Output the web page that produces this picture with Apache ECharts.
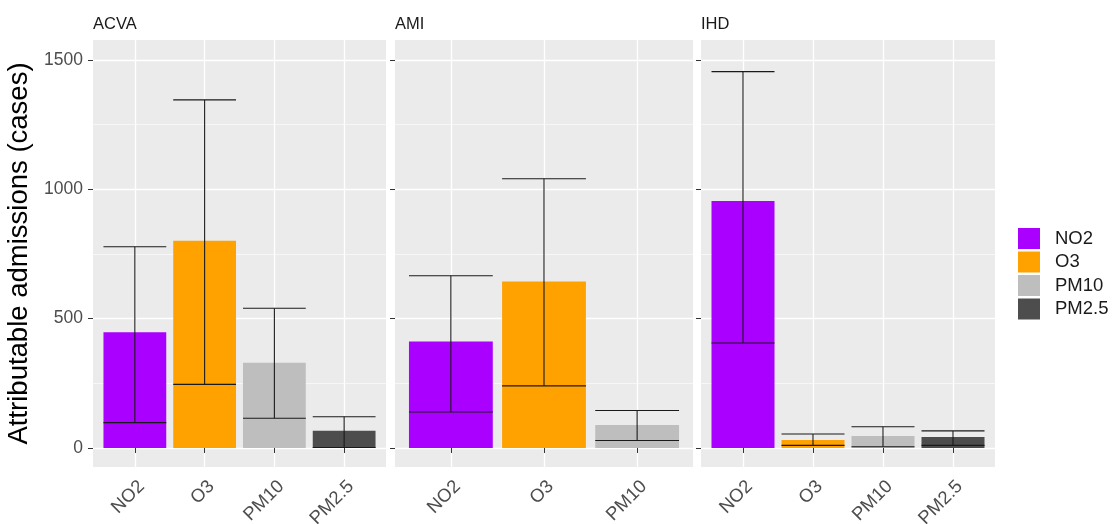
<!DOCTYPE html>
<html>
<head>
<meta charset="utf-8">
<script src="https://cdn.jsdelivr.net/npm/echarts@6/dist/echarts.min.js"></script>
<style>html,body{margin:0;padding:0;background:#fff;}#c{width:1116px;height:524px;}</style>
</head>
<body>
<div id="c"></div>
<script>
// ---- data ----
const facetNames = ['ACVA', 'AMI', 'IHD'];
const pollutants = ['NO2', 'O3', 'PM10', 'PM2.5'];

const acvaCats = ['NO2', 'O3', 'PM10', 'PM2.5'];
const acvaVals = [447, 801, 330, 67];
const acvaLow  = [98, 246, 115, 2];
const acvaHigh = [778, 1346, 540, 121];

const amiCats = ['NO2', 'O3', 'PM10'];
const amiVals = [412, 644, 89];
const amiLow  = [139, 240, 29];
const amiHigh = [666, 1041, 145];

const ihdCats = ['NO2', 'O3', 'PM10', 'PM2.5'];
const ihdVals = [955, 31, 46, 42];
const ihdLow  = [406, 10, 5, 10];
const ihdHigh = [1455, 54, 82, 66];

const yTicks = [0, 500, 1000, 1500];
const yMinorTicks = [250, 750, 1250];
const yTitle = 'Attributable admissions (cases)';

// ---- styling / layout ----
const colors = {'NO2': '#AA00FF', 'O3': '#FFA200', 'PM10': '#BEBEBE', 'PM2.5': '#4D4D4D'};
const FONT = 'Liberation Sans, Arial, sans-serif';
const panels = [{l: 93, r: 386}, {l: 395, r: 693}, {l: 701, r: 995}];
const TOP = 40, BOTTOM = 467;
const Y_MIN = -73.5, Y_MAX = 1577.3;

const facets = [
  {cats: acvaCats, vals: acvaVals, lo: acvaLow, hi: acvaHigh},
  {cats: amiCats, vals: amiVals, lo: amiLow, hi: amiHigh},
  {cats: ihdCats, vals: ihdVals, lo: ihdLow, hi: ihdHigh}
];

const grid = [], xAxis = [], yAxis = [], series = [], title = [];
facets.forEach((f, k) => {
  const p = panels[k];
  const w = p.r - p.l;
  const n = f.cats.length;
  const sp = w / (n + 0.2);
  const og = grid.length;
  grid.push({left: p.l, top: TOP, width: w, height: BOTTOM - TOP, show: true,
    backgroundColor: '#EBEBEB', borderWidth: 0, outerBoundsMode: 'none', containLabel: false});
  const ig = grid.length;
  grid.push({left: p.l + 0.6 * sp, top: TOP, width: sp * (n - 1), height: BOTTOM - TOP,
    outerBoundsMode: 'none', containLabel: false});

  title.push({text: facetNames[k], left: p.l, top: 16, padding: 0,
    textStyle: {fontSize: 16.5, fontWeight: 'normal', color: '#1A1A1A', fontFamily: FONT}});

  // outer axes
  xAxis.push({gridIndex: og, type: 'value', min: 0, max: 1, show: false});
  yAxis.push({gridIndex: og, type: 'value', min: Y_MIN, max: Y_MAX,
    axisLine: {show: false},
    axisTick: {show: true, length: 5, customValues: yTicks, lineStyle: {color: '#333', width: 1}},
    axisLabel: {show: k === 0, customValues: yTicks, fontSize: 17.5, color: '#4D4D4D', margin: 10,
      fontFamily: FONT, formatter: v => String(v)},
    splitLine: {show: true, lineStyle: {color: '#FFFFFF', width: 1.3}},
    name: k === 0 ? yTitle : '', nameLocation: 'middle', nameGap: 60,
    nameTextStyle: {fontSize: 27.5, color: '#000', fontFamily: FONT}
  });
  yAxis.push({gridIndex: og, type: 'value', min: Y_MIN, max: Y_MAX,
    axisLine: {show: false}, axisTick: {show: false, customValues: yMinorTicks},
    axisLabel: {show: false, customValues: yMinorTicks},
    splitLine: {show: true, lineStyle: {color: '#FFFFFF', width: 0.6}}
  });

  // inner axes
  const ixi = xAxis.length;
  xAxis.push({gridIndex: ig, type: 'category', data: f.cats, boundaryGap: false,
    axisLine: {show: false},
    axisTick: {show: true, length: 5, lineStyle: {color: '#333', width: 1}},
    axisLabel: {rotate: 45, interval: 0, fontSize: 18.5, color: '#4D4D4D', margin: 10,
      verticalAlign: 'top', fontFamily: FONT},
    splitLine: {show: true, lineStyle: {color: '#FFFFFF', width: 1.3}}
  });
  const iyi = yAxis.length;
  yAxis.push({gridIndex: ig, type: 'value', min: Y_MIN, max: Y_MAX, show: false, splitLine: {show: false}});

  pollutants.forEach(pol => {
    if (f.cats.indexOf(pol) < 0) return;
    series.push({
      type: 'bar', name: pol, xAxisIndex: ixi, yAxisIndex: iyi, stack: 'f' + k,
      barWidth: '90%', itemStyle: {color: colors[pol]},
      data: f.cats.map((c, i) => c === pol ? f.vals[i] : '-'),
      emphasis: {disabled: true}, animation: false
    });
  });

  series.push({
    type: 'custom', xAxisIndex: ixi, yAxisIndex: iyi, z: 5,
    data: f.cats.map((c, i) => [i, f.lo[i], f.hi[i]]),
    encode: {x: 0, y: [1, 2]},
    renderItem: function (params, api) {
      const i = api.value(0);
      const lo = api.coord([i, api.value(1)]);
      const hi = api.coord([i, api.value(2)]);
      const hw = api.size([1, 0])[0] * 0.45;
      const st = {stroke: '#1A1A1A', lineWidth: 1.1};
      return {type: 'group', children: [
        {type: 'line', shape: {x1: hi[0] - hw, y1: hi[1], x2: hi[0] + hw, y2: hi[1]}, style: st},
        {type: 'line', shape: {x1: lo[0] - hw, y1: lo[1], x2: lo[0] + hw, y2: lo[1]}, style: st},
        {type: 'line', shape: {x1: hi[0], y1: hi[1], x2: lo[0], y2: lo[1]}, style: st}
      ]};
    },
    animation: false
  });
});

const chart = echarts.init(document.getElementById('c'), null, {renderer: 'canvas'});
chart.setOption({
  animation: false,
  textStyle: {fontFamily: FONT},
  title: title,
  grid: grid,
  xAxis: xAxis,
  yAxis: yAxis,
  legend: {
    data: pollutants, orient: 'vertical', left: 1018, top: 228, padding: 0,
    icon: 'rect', itemWidth: 22, itemHeight: 21, itemGap: 2.5,
    textStyle: {fontSize: 18.5, color: '#1A1A1A', padding: [0, 0, 0, 10], fontFamily: FONT},
    selectedMode: false
  },
  series: series
});
</script>
</body>
</html>
